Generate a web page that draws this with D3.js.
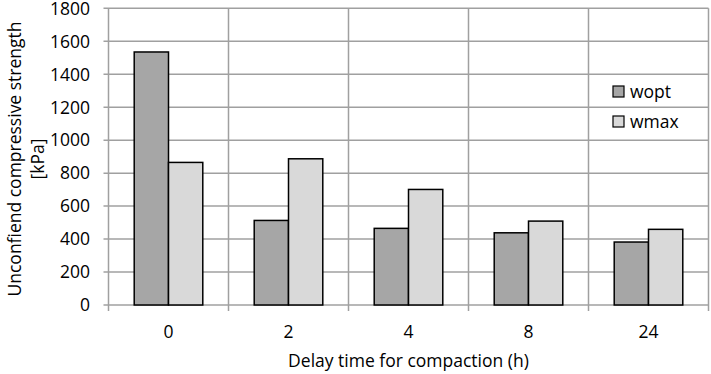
<!DOCTYPE html>
<html><head><meta charset="utf-8">
<script src="https://cdn.jsdelivr.net/npm/d3@7"></script>
<style>body{margin:0;background:#fff}svg{display:block}text{font-family:"Open Sans",sans-serif;fill:#000}</style>
</head><body>
<script>
const categories = ["0", "2", "4", "8", "24"];
const seriesNames = ["wopt", "wmax"];
const wopt = [1535, 513, 465, 438, 382];
const wmax = [865, 887, 701, 509, 459];
const yTicks = [0, 200, 400, 600, 800, 1000, 1200, 1400, 1600, 1800];
const colors = ["#a6a6a6", "#d9d9d9"];

const W = 711, H = 374;
const m = {left: 108.5, right: 2.5, top: 8.3, bottom: 69};
const FS = "17.5px";
const svg = d3.select("body").append("svg").attr("width", W).attr("height", H);

const x = d3.scaleBand().domain(categories).range([m.left, W - m.right]);
const xs = d3.scaleBand().domain(seriesNames).range([0, x.bandwidth()]).paddingInner(0).paddingOuter(0.75);
const y = d3.scaleLinear().domain([0, 1800]).range([H - m.bottom, m.top]);
const grid = "#a0a0a0";

svg.append("g").selectAll("line").data(yTicks).join("line")
  .attr("x1", m.left - 5).attr("x2", W - m.right)
  .attr("y1", d => y(d)).attr("y2", d => y(d))
  .attr("stroke", grid).attr("stroke-width", 1.5);

const bounds = categories.map(c => x(c)).concat([x(categories[categories.length-1]) + x.bandwidth()]);
svg.append("g").selectAll("line").data(bounds).join("line")
  .attr("x1", d => d).attr("x2", d => d)
  .attr("y1", m.top).attr("y2", y(0) + 6)
  .attr("stroke", grid).attr("stroke-width", 1.5);

svg.append("g").selectAll("text").data(yTicks).join("text")
  .attr("x", 90).attr("y", d => y(d)).attr("dy", "0.36em")
  .attr("text-anchor", "end").style("font-size", FS).text(d => d);

const data = categories.map((c, i) => ({c, vals: [wopt[i], wmax[i]]}));
const g = svg.append("g").selectAll("g").data(data).join("g")
  .attr("transform", d => `translate(${x(d.c)},0)`);
g.selectAll("rect").data(d => d.vals.map((v, j) => ({s: seriesNames[j], v, j}))).join("rect")
  .attr("x", d => xs(d.s)).attr("width", xs.bandwidth())
  .attr("y", d => y(d.v)).attr("height", d => y(0) - y(d.v))
  .attr("fill", d => colors[d.j]).attr("stroke", "#000").attr("stroke-width", 1.5);

svg.append("g").selectAll("text").data(categories).join("text")
  .attr("x", d => x(d) + x.bandwidth() / 2).attr("y", 338)
  .attr("text-anchor", "middle").style("font-size", FS).text(d => d);

svg.append("text").attr("x", (m.left + W - m.right) / 2).attr("y", 367)
  .attr("text-anchor", "middle").style("font-size", FS).text("Delay time for compaction (h)");

const yt = svg.append("text").attr("transform", "translate(21,159) rotate(-90)")
  .attr("text-anchor", "middle").style("font-size", FS);
yt.append("tspan").attr("x", 0).attr("dy", 0).text("Unconfiend compressive strength");
yt.append("tspan").attr("x", 0).attr("dy", 23).text("[kPa]");

const lg = svg.append("g").selectAll("g").data(seriesNames).join("g")
  .attr("transform", (d, i) => `translate(613,${86 + i * 30})`);
lg.append("rect").attr("width", 11).attr("height", 11)
  .attr("fill", (d, i) => colors[i]).attr("stroke", "#000").attr("stroke-width", 1.2);
lg.append("text").attr("x", 17).attr("y", 5.5).attr("dy", "0.36em")
  .style("font-size", FS).text(d => d);
</script>
</body></html>
